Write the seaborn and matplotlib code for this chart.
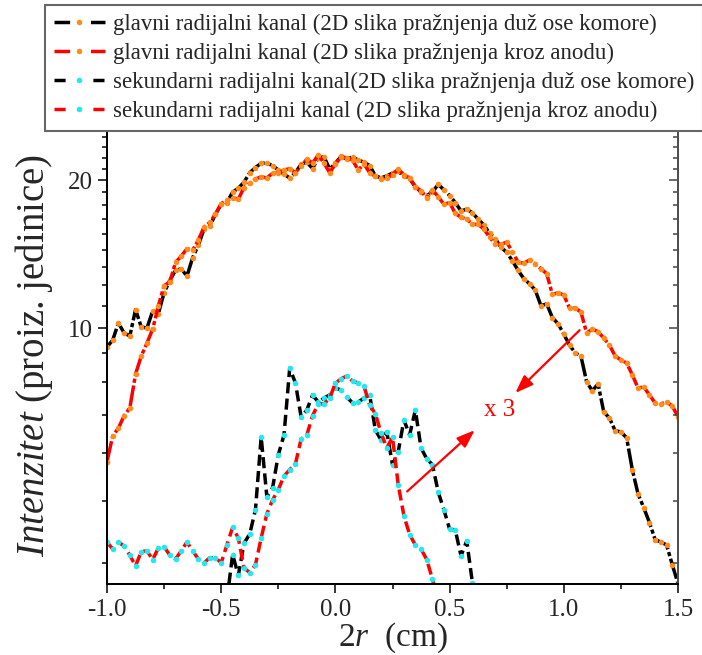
import numpy as np
import matplotlib
matplotlib.use('Agg')
import matplotlib.pyplot as plt
from matplotlib.lines import Line2D
from matplotlib.ticker import FixedLocator, FixedFormatter, NullFormatter
import seaborn as sns

sns.set_theme(style='ticks')
plt.rcParams['font.family'] = ['Liberation Serif', 'DejaVu Serif']
plt.rcParams['mathtext.fontset'] = 'custom'
plt.rcParams['mathtext.rm'] = 'Liberation Serif'
plt.rcParams['mathtext.it'] = 'Liberation Serif:italic'

# x grid of the two main-channel profiles (cm)
x_main = [-1.000, -0.975, -0.950, -0.925, -0.900, -0.875, -0.850, -0.825, -0.800, -0.775,
          -0.750, -0.725, -0.700, -0.675, -0.650, -0.625, -0.600, -0.575, -0.550, -0.525,
          -0.500, -0.475, -0.450, -0.425, -0.400, -0.375, -0.350, -0.325, -0.300, -0.275,
          -0.250, -0.225, -0.200, -0.175, -0.150, -0.125, -0.100, -0.075, -0.050, -0.025,
          0.000, 0.025, 0.050, 0.075, 0.100, 0.125, 0.150, 0.175, 0.200, 0.225,
          0.250, 0.275, 0.300, 0.325, 0.350, 0.375, 0.400, 0.425, 0.450, 0.475,
          0.500, 0.525, 0.550, 0.575, 0.600, 0.625, 0.650, 0.675, 0.700, 0.725,
          0.750, 0.775, 0.800, 0.825, 0.850, 0.875, 0.900, 0.925, 0.950, 0.975,
          1.000, 1.025, 1.050, 1.075, 1.100, 1.125, 1.150, 1.175, 1.200, 1.225,
          1.250, 1.275, 1.300, 1.325, 1.350, 1.375, 1.400, 1.425, 1.450, 1.475, 1.500]

# glavni kanal, 2D slika duz ose komore
y_main_axis = [9.15, 9.45, 10.24, 9.77, 9.63, 10.9, 10.05, 10.0, 10.83, 10.7,
               11.8, 12.5, 13.1, 13.2, 12.75, 13.9, 14.75, 15.9, 16.1, 17.05,
               17.85, 18.0, 18.9, 19.25, 19.8, 20.7, 21.2, 21.65, 21.65, 21.4,
               20.96, 20.55, 20.2, 20.7, 21.55, 21.75, 21.1, 22.2, 22.3, 21.05,
               21.65, 22.35, 22.05, 22.3, 21.95, 21.75, 21.4, 20.4, 20.2, 20.4,
               20.66, 20.85, 20.35, 20.1, 19.4, 18.9, 18.6, 18.9, 19.6, 19.1,
               18.6, 18.0, 17.3, 17.45, 17.15, 16.65, 16.2, 15.6, 15.2, 14.6,
               14.25, 13.7, 13.1, 12.6, 12.3, 11.95, 11.1, 11.2, 10.5, 10.2,
               9.72, 9.23, 8.9, 8.77, 7.77, 7.45, 7.7, 6.75, 6.56, 6.18,
               6.15, 5.98, 5.15, 4.6, 4.31, 4.02, 3.71, 3.67, 3.62, 3.3, 3.02]

# glavni kanal, 2D slika kroz anodu
y_main_anode = [5.35, 6.03, 6.26, 6.63, 6.88, 8.06, 8.77, 9.32, 9.95, 11.1,
                12.2, 12.4, 13.6, 14.0, 14.5, 14.4, 15.1, 16.05, 16.4, 17.05,
                17.9, 18.2, 18.4, 18.3, 19.3, 19.7, 20.1, 20.3, 20.2, 20.65,
                20.65, 20.96, 21.1, 20.7, 21.4, 22.05, 21.65, 22.5, 21.65, 20.7,
                21.55, 22.3, 22.2, 21.95, 20.96, 21.55, 20.7, 20.35, 20.1, 20.2,
                20.5, 21.05, 20.5, 20.2, 19.4, 19.0, 18.4, 19.1, 18.5, 17.85,
                18.0, 17.1, 16.8, 16.65, 16.25, 16.25, 15.9, 15.3, 14.8, 14.8,
                14.95, 14.3, 13.6, 13.55, 13.75, 13.5, 13.2, 12.9, 11.7, 11.8,
                11.67, 10.98, 10.98, 10.78, 9.77, 9.95, 9.83, 9.54, 9.23, 8.77,
                8.61, 8.49, 8.03, 7.55, 7.59, 7.31, 7.04, 7.01, 7.07, 6.94, 6.6]

# sekundarni kanal, 2D slika duz ose komore (x 3)
x_sec_axis = [-0.475, -0.450, -0.425, -0.400, -0.375, -0.350, -0.325, -0.300, -0.275, -0.250,
              -0.225, -0.200, -0.175, -0.150, -0.125, -0.100, -0.075, -0.050, -0.025, 0.000,
              0.025, 0.050, 0.075, 0.100, 0.125, 0.150, 0.175, 0.200, 0.225, 0.250,
              0.275, 0.300, 0.325, 0.350, 0.375, 0.400, 0.425, 0.450, 0.475, 0.500,
              0.525, 0.550, 0.575, 0.600, 0.625]
y_sec_axis = [2.8, 3.46, 3.14, 3.65, 3.81, 4.27, 6.0, 4.53, 4.73, 5.52,
              6.06, 8.29, 7.73, 6.59, 6.81, 7.31, 7.07, 7.2, 7.31, 7.55,
              7.48, 7.24, 7.04, 7.07, 7.2, 7.31, 6.2, 5.92, 6.15, 5.27,
              5.6, 6.5, 6.06, 6.81, 5.7, 5.42, 5.27, 4.64, 4.27, 3.9,
              3.88, 3.44, 3.69, 3.03, 2.8]

# sekundarni kanal, 2D slika kroz anodu (x 3)
x_sec_anode = [-1.000, -0.975, -0.950, -0.925, -0.900, -0.875, -0.850, -0.825, -0.800, -0.775,
               -0.750, -0.725, -0.700, -0.675, -0.650, -0.625, -0.600, -0.575, -0.550, -0.525,
               -0.500, -0.475, -0.450, -0.425, -0.400, -0.375, -0.350, -0.325, -0.300, -0.275,
               -0.250, -0.225, -0.200, -0.175, -0.150, -0.125, -0.100, -0.075, -0.050, -0.025,
               0.000, 0.025, 0.050, 0.075, 0.100, 0.125, 0.150, 0.175, 0.200, 0.225,
               0.250, 0.275, 0.300, 0.325, 0.350, 0.375, 0.400, 0.425, 0.450]
y_sec_anode = [3.67, 3.55, 3.67, 3.6, 3.45, 3.28, 3.51, 3.52, 3.38, 3.57,
               3.59, 3.45, 3.39, 3.52, 3.67, 3.52, 3.39, 3.33, 3.41, 3.41,
               3.33, 3.62, 3.93, 3.74, 3.25, 3.18, 3.3, 3.74, 4.19, 4.47,
               4.69, 5.0, 5.15, 5.29, 5.95, 6.06, 6.63, 7.01, 7.01, 7.2,
               7.73, 7.88, 7.99, 7.8, 7.73, 7.62, 6.97, 6.69, 6.12, 5.7,
               6.0, 4.8, 4.15, 3.8, 3.62, 3.55, 3.38, 3.08, 2.8]

labels = [
    'glavni radijalni kanal (2D slika pražnjenja duž ose komore)',
    'glavni radijalni kanal (2D slika pražnjenja kroz anodu)',
    'sekundarni radijalni kanal(2D slika pražnjenja duž ose komore)',
    'sekundarni radijalni kanal (2D slika pražnjenja kroz anodu)',
]

ORANGE = '#FF8C1A'
CYAN = '#22E8F0'
dashdot = (0, (6, 0.8, 1.2, 0.8))
dashed = (0, (3.2, 1.5))

fig = plt.figure(figsize=(7.02, 6.55), dpi=100)
ax = fig.add_axes([107 / 702, 71 / 655, 571 / 702, 458 / 655])

series = [
    (x_main, y_main_axis, 'black', ORANGE, dashdot),
    (x_main, y_main_anode, 'red', ORANGE, dashdot),
    (x_sec_axis, y_sec_axis, 'black', CYAN, dashed),
    (x_sec_anode, y_sec_anode, 'red', CYAN, dashed),
]
for xs, ys, col, mcol, ls in series:
    sns.lineplot(x=xs, y=ys, ax=ax, color=col, lw=2.5, linestyle=ls,
                 marker='o', markersize=4, markerfacecolor=mcol,
                 markeredgewidth=0, sort=False, estimator=None)

ax.set_yscale('log')
ax.set_xlim(-1.0, 1.5)
ax.set_ylim(3.015, 25.76)

ax.yaxis.set_major_locator(FixedLocator([10, 20]))
ax.yaxis.set_major_formatter(FixedFormatter(['10', '20']))
ax.yaxis.set_minor_locator(FixedLocator([3.333, 4.444, 5.556, 6.667, 7.778, 8.889,
                                         11.11, 12.22, 13.33, 14.44, 15.56, 16.67, 17.78, 18.89,
                                         21.11, 22.22, 23.33, 24.44, 25.56]))
ax.yaxis.set_minor_formatter(NullFormatter())
ax.set_xticks([-1.0, -0.5, 0.0, 0.5, 1.0, 1.5])
ax.set_xticklabels(['-1.0', '-0.5', '0.0', '0.5', '1.0', '1.5'])
ax.set_xticks([-0.75, -0.25, 0.25, 0.75, 1.25], minor=True)

ax.tick_params(which='both', direction='out', labelsize=18, width=1.1, color='black',
               right=False, top=False, pad=4)
ax.tick_params(which='major', length=6.5)
ax.tick_params(which='minor', length=3.6)

# right-hand ticks point inwards
ax2 = ax.twinx()
ax2.set_yscale('log')
ax2.set_ylim(ax.get_ylim())
ax2.yaxis.set_major_locator(FixedLocator([10, 20]))
ax2.yaxis.set_minor_locator(ax.yaxis.get_minor_locator())
ax2.yaxis.set_major_formatter(NullFormatter())
ax2.yaxis.set_minor_formatter(NullFormatter())
ax2.tick_params(which='both', direction='in', width=1.1, color='#444444')
ax2.tick_params(which='major', length=6.5)
ax2.tick_params(which='minor', length=3.6)

for a in (ax, ax2):
    for s in a.spines.values():
        s.set_linewidth(1.3)
        s.set_color('black')
ax2.spines['right'].set_color('#555555')

ax.set_xlabel(r'$\mathit{2r}$  (cm)', fontsize=24, labelpad=0)
ax.set_ylabel(r'$\mathit{Intenzitet}$ (proiz. jedinice)', fontsize=28, labelpad=9)

ax.annotate('', xy=(0.619, 6.25), xytext=(0.305, 4.61),
            arrowprops=dict(arrowstyle='-|>,head_length=0.6,head_width=0.22',
                            color='red', lw=1.6, mutation_scale=18))
ax.annotate('', xy=(0.779, 7.31), xytext=(1.078, 9.99),
            arrowprops=dict(arrowstyle='-|>,head_length=0.6,head_width=0.22',
                            color='red', lw=1.6, mutation_scale=18))
ax.text(0.72, 6.8, 'x 3', color='red', fontsize=18, ha='center', va='center')

handle_ls = (0, (4.5, 6.0))
handles = [
    Line2D([], [], color='black', lw=2.5, linestyle=handle_ls, marker='o',
           markersize=4, markerfacecolor=ORANGE, markeredgewidth=0),
    Line2D([], [], color='red', lw=2.5, linestyle=handle_ls, marker='o',
           markersize=4, markerfacecolor=ORANGE, markeredgewidth=0),
    Line2D([], [], color='black', lw=2.5, linestyle=(0, (3.2, 8.0)), marker='o',
           markersize=4, markerfacecolor=CYAN, markeredgewidth=0),
    Line2D([], [], color='red', lw=2.5, linestyle=(0, (3.2, 8.0)), marker='o',
           markersize=4, markerfacecolor=CYAN, markeredgewidth=0),
]
leg = fig.legend(handles, labels, loc='upper left', bbox_to_anchor=(45 / 702, 1 - 5 / 655),
                 bbox_transform=fig.transFigure, fontsize=16.5, frameon=True, fancybox=False,
                 edgecolor='#666666', framealpha=1, handlelength=2.2, handletextpad=0.35,
                 labelspacing=0.33, borderpad=0.4, borderaxespad=0, numpoints=1)
leg.get_frame().set_linewidth(1.5)
leg.set_zorder(10)

fig.savefig('out.png', dpi=100)
